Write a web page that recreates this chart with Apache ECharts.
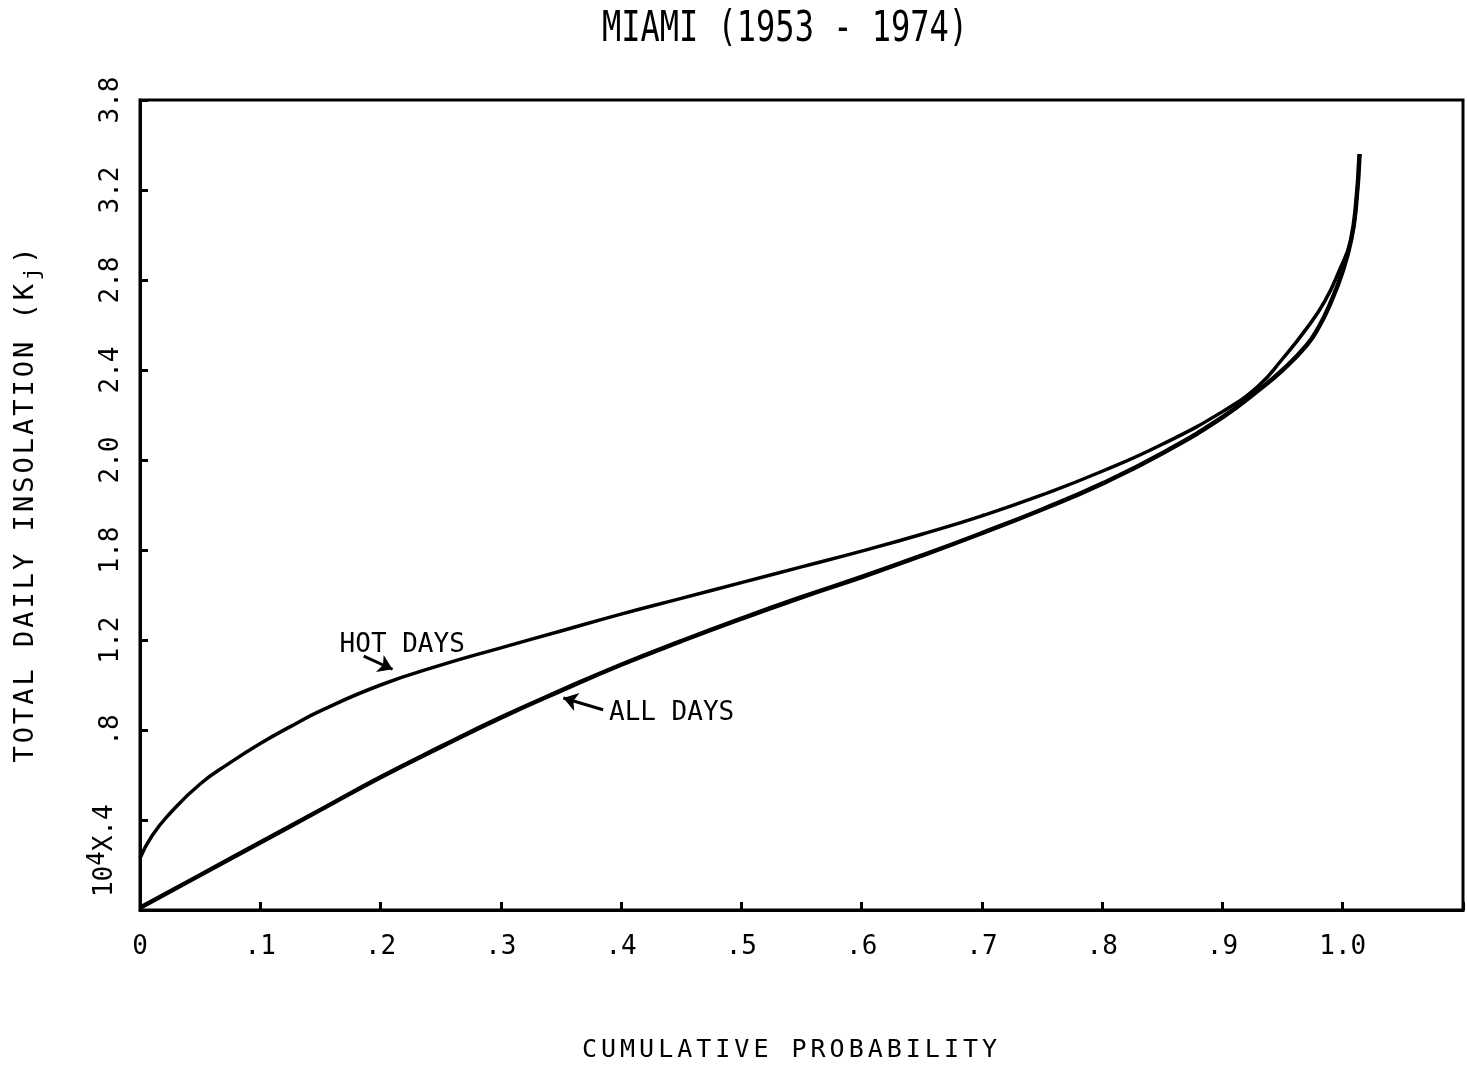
<!DOCTYPE html>
<html>
<head>
<meta charset="utf-8">
<title>Miami insolation</title>
<script src="https://cdn.jsdelivr.net/npm/echarts@6/dist/echarts.min.js"></script>
<style>
  html, body { margin: 0; padding: 0; background: #fff; }
  #chart { width: 1467px; height: 1076px; }
</style>
</head>
<body>
<div id="chart"></div>
<script>
// Labels and text
const titleText = 'MIAMI (1953 - 1974)';
const xAxisName = 'CUMULATIVE PROBABILITY';
const yAxisName = 'TOTAL DAILY INSOLATION (K';
const yAxisNameSub = 'j';
const yAxisNameEnd = ')';
const xTickLabels = ['0', '.1', '.2', '.3', '.4', '.5', '.6', '.7', '.8', '.9', '1.0', ''];
const yTickLabels = ['', '.4', '.8', '1.2', '1.8', '2.0', '2.4', '2.8', '3.2', '3.8'];
const yUnitBase = '10';
const yUnitExp = '4';
const yUnitTimes = 'X';
const hotLabel = 'HOT DAYS';
const allLabel = 'ALL DAYS';

// Cumulative probability vs. total daily insolation (10^4 kJ)
const hotDays = [
  [0.000, 0.230], [0.010, 0.330], [0.025, 0.430], [0.050, 0.560], [0.075, 0.655],
  [0.100, 0.740], [0.125, 0.815], [0.150, 0.885], [0.200, 1.000], [0.250, 1.088],
  [0.300, 1.165], [0.350, 1.240], [0.400, 1.315], [0.450, 1.385], [0.500, 1.455],
  [0.550, 1.525], [0.600, 1.595], [0.650, 1.670], [0.700, 1.752], [0.750, 1.845],
  [0.800, 1.950], [0.850, 2.070], [0.900, 2.215], [0.930, 2.330], [0.950, 2.450],
  [0.970, 2.585], [0.985, 2.705], [0.997, 2.840], [1.007, 2.980], [1.011, 3.130],
  [1.014, 3.360]
];
const allDays = [
  [0.000, 0.010], [0.050, 0.155], [0.100, 0.300], [0.150, 0.445], [0.200, 0.590],
  [0.250, 0.725], [0.300, 0.855], [0.350, 0.975], [0.400, 1.090], [0.450, 1.195],
  [0.500, 1.295], [0.550, 1.390], [0.600, 1.480], [0.650, 1.575], [0.700, 1.675],
  [0.750, 1.780], [0.800, 1.895], [0.850, 2.030], [0.900, 2.190], [0.930, 2.310],
  [0.950, 2.400], [0.970, 2.510], [0.980, 2.590], [0.990, 2.700], [1.000, 2.840],
  [1.007, 2.980], [1.011, 3.130], [1.014, 3.360]
];

const MONO = '"DejaVu Sans Mono", "Liberation Mono", monospace';
const INK = '#000';

// Typewriter-style spacing: each character becomes its own rich token
const spaced = (s, key) => s.split('').map(c => '{' + key + '|' + c + '}').join('');

const chart = echarts.init(document.getElementById('chart'), null, { renderer: 'canvas' });

const yUnitRich = {
  n: { fontFamily: MONO, fontSize: 26, color: INK },
  sup: { fontFamily: MONO, fontSize: 24, color: INK, padding: [0, 0, 14, 0] },
  hn: { fontFamily: MONO, fontSize: 26, color: 'transparent' },
  hsup: { fontFamily: MONO, fontSize: 24, color: 'transparent', padding: [0, 0, 14, 0] }
};

const arrowLine = {
  silent: true,
  symbol: ['none', 'arrow'],
  symbolSize: 14,
  lineStyle: { color: INK, width: 3, type: 'solid' },
  itemStyle: { color: INK },
  label: { show: false }
};

const curveLabel = text => ({
  silent: true,
  symbol: 'circle',
  symbolSize: 1,
  itemStyle: { color: 'transparent' },
  label: { show: true, position: 'inside', formatter: text, fontFamily: MONO, fontSize: 26, color: INK }
});

chart.setOption({
  animation: false,
  backgroundColor: '#fff',
  graphic: [{
    type: 'text',
    x: 785,
    y: 8,
    scaleY: 1.35,
    style: {
      text: titleText,
      fontFamily: MONO,
      fontSize: 32,
      fill: INK,
      align: 'center',
      verticalAlign: 'top'
    }
  }],
  grid: {
    left: 140,
    right: 4,
    top: 100,
    bottom: 166,
    show: true,
    borderColor: INK,
    borderWidth: 3,
    backgroundColor: 'transparent'
  },
  xAxis: {
    type: 'value',
    min: 0,
    max: 1.1,
    interval: 0.1,
    axisLine: { show: true, onZero: false, lineStyle: { color: INK, width: 3 } },
    axisTick: { show: true, inside: true, length: 8, lineStyle: { color: INK, width: 3 } },
    splitLine: { show: false },
    axisLabel: {
      margin: 24,
      color: INK,
      fontFamily: MONO,
      fontSize: 26,
      showMaxLabel: true,
      formatter: v => xTickLabels[Math.round(v * 10)] ?? ''
    },
    name: spaced(xAxisName, 'c'),
    nameLocation: 'middle',
    nameGap: 128,
    nameTextStyle: {
      padding: [0, 24, 0, 0],
      rich: { c: { fontFamily: MONO, fontSize: 25, color: INK, padding: [0, 2, 0, 2] } }
    }
  },
  yAxis: {
    type: 'value',
    min: 0,
    max: 3.6,
    interval: 0.4,
    axisLine: { show: true, onZero: false, lineStyle: { color: INK, width: 3 } },
    axisTick: { show: true, inside: true, length: 8, lineStyle: { color: INK, width: 3 } },
    splitLine: { show: false },
    axisLabel: {
      rotate: 90,
      margin: 16,
      color: INK,
      fontFamily: MONO,
      fontSize: 26,
      rich: yUnitRich,
      formatter: v => {
        const i = Math.round(v / 0.4);
        const t = yTickLabels[i] ?? '';
        if (i === 1) {
          // the unit multiplier sits in front of the first label; a hidden copy keeps ".4" on its tick
          return '{n|' + yUnitBase + '}{sup|' + yUnitExp + '}{n|' + yUnitTimes + '}{n|' + t + '}' +
                 '{hn|' + yUnitBase + '}{hsup|' + yUnitExp + '}{hn|' + yUnitTimes + '}';
        }
        return t;
      }
    },
    name: spaced(yAxisName, 'c') + '{sub|' + yAxisNameSub + '}' + spaced(yAxisNameEnd, 'c'),
    nameLocation: 'middle',
    nameRotate: 90,
    nameGap: 96,
    nameTextStyle: {
      rich: {
        c: { fontFamily: MONO, fontSize: 27, color: INK, padding: [0, 1.5, 0, 1.5] },
        sub: { fontFamily: MONO, fontSize: 22, color: INK, padding: [14, 2, 0, 2] }
      }
    }
  },
  series: [
    {
      name: hotLabel,
      type: 'line',
      data: hotDays,
      smooth: 0.5,
      showSymbol: false,
      lineStyle: { color: INK, width: 3.5 },
      z: 3,
      markPoint: Object.assign(curveLabel(hotLabel), { data: [{ coord: [0.218, 1.175] }] }),
      markLine: Object.assign({}, arrowLine, { data: [[{ coord: [0.186, 1.128] }, { coord: [0.210, 1.070] }]] })
    },
    {
      name: allLabel,
      type: 'line',
      data: allDays,
      smooth: 0.5,
      showSymbol: false,
      lineStyle: { color: INK, width: 4.5 },
      z: 3,
      markPoint: Object.assign(curveLabel(allLabel), { data: [{ coord: [0.442, 0.873] }] }),
      markLine: Object.assign({}, arrowLine, { data: [[{ coord: [0.385, 0.890] }, { coord: [0.352, 0.942] }]] })
    }
  ]
});
</script>
</body>
</html>
